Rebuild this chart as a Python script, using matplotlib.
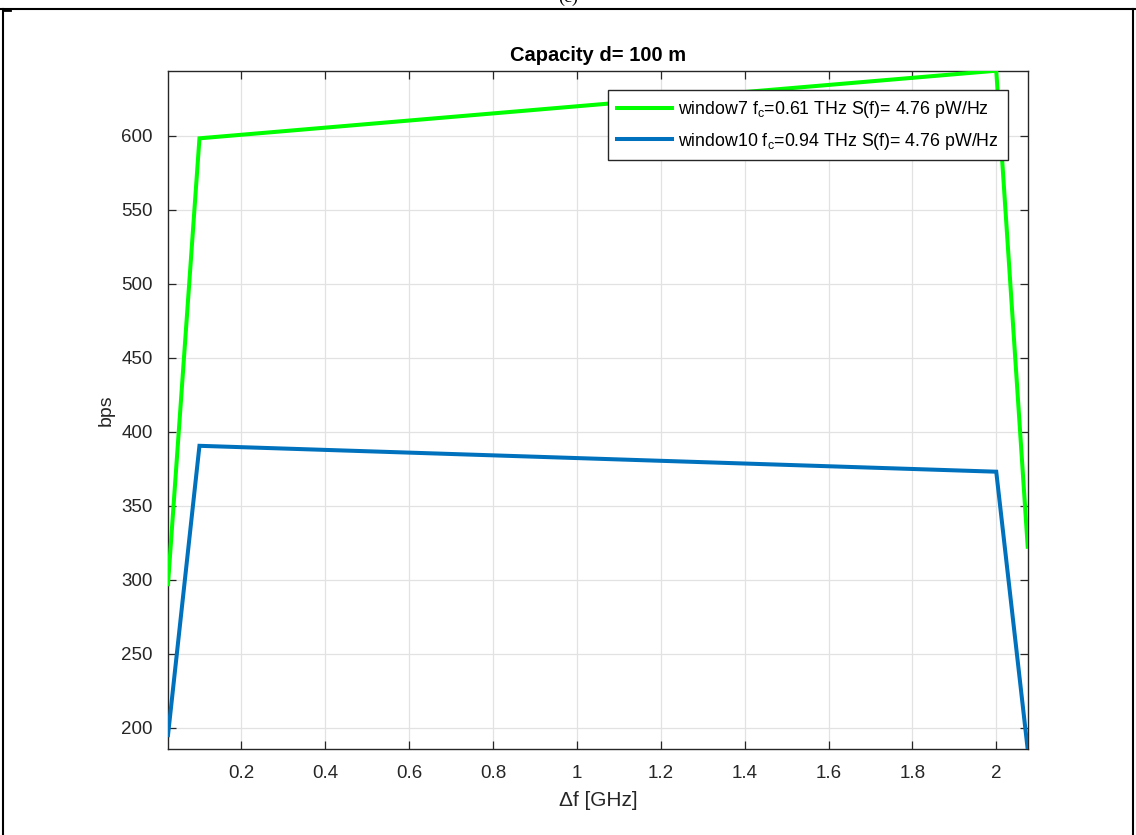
import matplotlib
matplotlib.use("Agg")
import matplotlib.pyplot as plt
from matplotlib.lines import Line2D

plt.rcParams['font.family'] = ['Liberation Sans', 'DejaVu Sans']
plt.rcParams['mathtext.fontset'] = 'custom'
plt.rcParams['mathtext.rm'] = 'Liberation Sans'
plt.rcParams['mathtext.it'] = 'Liberation Sans'

# Capacity vs. bandwidth for two transmission windows
delta_f = [0.025, 0.1, 2.0, 2.075]
cap_window7 = [297.0, 598.3, 644.0, 322.3]
cap_window10 = [195.0, 390.5, 373.0, 185.4]
label_window7 = r'window7 f$_{\mathrm{c}}$=0.61 THz S(f)= 4.76 pW/Hz'
label_window10 = r'window10 f$_{\mathrm{c}}$=0.94 THz S(f)= 4.76 pW/Hz'
x_ticks = [0.2, 0.4, 0.6, 0.8, 1.0, 1.2, 1.4, 1.6, 1.8, 2.0]
x_tick_labels = ['0.2', '0.4', '0.6', '0.8', '1', '1.2', '1.4', '1.6', '1.8', '2']
y_ticks = [200, 250, 300, 350, 400, 450, 500, 550, 600]

W, H = 1136, 835
fig = plt.figure(figsize=(W / 100, H / 100), dpi=100)
ax = fig.add_axes([168 / W, 1 - 749.3 / H, (1027.7 - 168) / W, (749.3 - 70.7) / H])

axis_col = '#262626'
ax.plot(delta_f, cap_window7, color='#00ff00', lw=2.9, label=label_window7,
        solid_joinstyle='miter', zorder=3)
ax.plot(delta_f, cap_window10, color='#0072bd', lw=2.9, label=label_window10,
        solid_joinstyle='miter', zorder=3)

all_y = cap_window7 + cap_window10
ax.set_xlim(min(delta_f), max(delta_f))
ax.set_ylim(min(all_y), max(all_y))
ax.set_xticks(x_ticks)
ax.set_xticklabels(x_tick_labels)
ax.set_yticks(y_ticks)

ax.grid(True, color='#e2e2e2', lw=0.9)
ax.set_axisbelow(True)
ax.tick_params(direction='in', length=6, width=0.9, color=axis_col,
               labelcolor=axis_col, labelsize=13.5, top=True, right=True)
ax.tick_params(axis='y', pad=11)
ax.tick_params(axis='x', pad=11)
for s in ax.spines.values():
    s.set_color(axis_col)
    s.set_linewidth(1.0)

ax.set_title('Capacity d= 100 m', fontsize=14.5, fontweight='bold', color='black', pad=7)
ax.set_xlabel('Δf [GHz]', fontsize=15, color=axis_col, labelpad=7)
ax.set_ylabel('bps', fontsize=14, color=axis_col, labelpad=5)

leg = ax.legend(loc='upper right', bbox_to_anchor=((1008 - 168) / (1027.7 - 168), (749.3 - 90) / (749.3 - 70.7)),
                borderaxespad=0, fontsize=12.8, handlelength=3.1, handletextpad=0.35,
                fancybox=False, framealpha=1, edgecolor=axis_col, labelspacing=0.6,
                borderpad=0.5)
leg.get_frame().set_linewidth(1.0)

# Page frame around the figure
fig.add_artist(Line2D([0, 1], [1 - 8.5 / H, 1 - 8.5 / H], color='black', lw=1.5))
fig.add_artist(Line2D([2.5 / W, 2.5 / W], [0, 1 - 8.5 / H], color='black', lw=1.5))
fig.add_artist(Line2D([1133 / W, 1133 / W], [0, 1 - 8.5 / H], color='black', lw=1.5))
fig.add_artist(Line2D([3 / W, 10 / W], [1 - 10 / H, 1 - 10 / H], color='black', lw=2))
fig.text(568 / W, 1 - 6 / H, '(c)', fontsize=13, ha='center', va='bottom',
         family='Liberation Serif')

fig.savefig('out.png', dpi=100)
